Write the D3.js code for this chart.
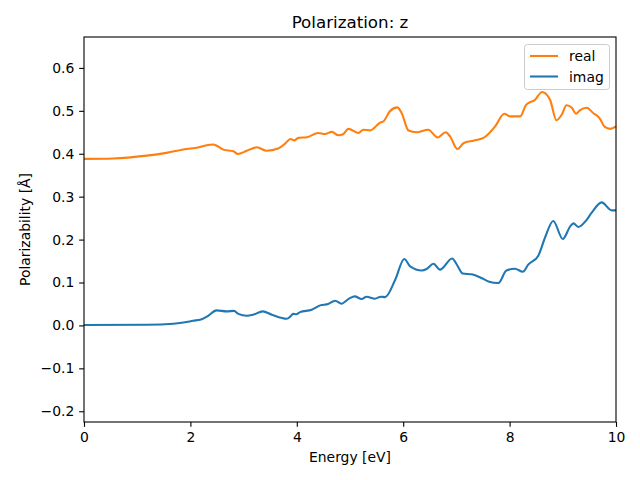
<!DOCTYPE html>
<html><head><meta charset="utf-8">
<script src="https://cdn.jsdelivr.net/npm/d3@7"></script>
<style>body{margin:0;background:#fff}svg{display:block}text{font-family:"DejaVu Sans",sans-serif}</style>
</head><body>
<svg id="c" width="640" height="480"></svg>
<script>
const realE = [0,0.55,1.18,1.55,1.93,2.09,2.37,2.43,2.62,2.81,2.89,3.06,3.25,3.43,3.65,3.78,3.88,3.95,4.03,4.19,4.40,4.53,4.66,4.78,4.87,4.97,5.16,5.25,5.38,5.56,5.63,5.75,5.89,5.97,6.10,6.25,6.47,6.65,6.80,6.88,7.02,7.14,7.32,7.51,7.73,7.90,8.01,8.20,8.31,8.48,8.61,8.76,8.88,8.98,9.07,9.17,9.25,9.32,9.45,9.57,9.69,9.79,9.89,10];
const realV = [0.388,0.389,0.3956,0.402,0.411,0.4135,0.421,0.4215,0.4096,0.4056,0.3995,0.407,0.415,0.407,0.412,0.4235,0.4345,0.431,0.437,0.4385,0.4485,0.446,0.451,0.443,0.4455,0.458,0.4485,0.456,0.4545,0.472,0.4756,0.499,0.508,0.495,0.454,0.45,0.456,0.438,0.45,0.4406,0.411,0.425,0.4305,0.437,0.464,0.493,0.487,0.487,0.514,0.526,0.544,0.526,0.478,0.491,0.513,0.507,0.493,0.501,0.507,0.495,0.483,0.4625,0.458,0.464];
const imagE = [0,1.18,1.68,1.93,2.05,2.18,2.34,2.49,2.68,2.82,2.90,3.06,3.18,3.36,3.53,3.81,3.88,3.93,3.99,4.06,4.28,4.44,4.59,4.72,4.84,4.99,5.09,5.22,5.31,5.47,5.58,5.66,5.85,6.02,6.13,6.35,6.44,6.57,6.69,6.92,7.02,7.12,7.29,7.47,7.60,7.79,7.94,8.10,8.25,8.35,8.54,8.67,8.82,9.00,9.14,9.20,9.29,9.44,9.54,9.73,9.92,10];
const imagV = [0.001,0.0016,0.004,0.008,0.011,0.013,0.023,0.035,0.0327,0.034,0.027,0.0226,0.025,0.0327,0.025,0.0156,0.021,0.027,0.026,0.031,0.0366,0.0467,0.050,0.0576,0.0506,0.063,0.0676,0.0615,0.0669,0.0622,0.067,0.066,0.1065,0.1548,0.1375,0.128,0.1315,0.1438,0.130,0.156,0.139,0.121,0.119,0.1105,0.1026,0.0988,0.128,0.132,0.125,0.1415,0.1625,0.206,0.2433,0.2014,0.2308,0.2378,0.2294,0.2448,0.262,0.2867,0.268,0.268];
const xTicks = [0,2,4,6,8,10];
const yTicks = [-0.2,-0.1,0.0,0.1,0.2,0.3,0.4,0.5,0.6];
const seriesNames = ["real","imag"];
const colors = ["#ff7f0e","#1f77b4"];

const L=84,R=616,T=37,B=422;
const svg=d3.select("#c");
const x=d3.scaleLinear().domain([0,10]).range([L,R]);
const y=d3.scaleLinear().domain([-0.225,0.672]).range([B,T]);

const line=d3.line().x(d=>x(d[0])).y(d=>y(d[1])).curve(d3.curveMonotoneX);
const realData=realE.map((e,i)=>[e,realV[i]]);
const imagData=imagE.map((e,i)=>[e,imagV[i]]);
const g=svg.append("g");
g.append("path").datum(realData).attr("d",line).attr("fill","none").attr("stroke",colors[0]).attr("stroke-width",2.08);
g.append("path").datum(imagData).attr("d",line).attr("fill","none").attr("stroke",colors[1]).attr("stroke-width",2.08);

const xa=svg.append("g").attr("transform",`translate(0,${B})`).call(d3.axisBottom(x).tickValues(xTicks).tickSize(4.86).tickPadding(4.9).tickFormat(d3.format("d")));
const ya=svg.append("g").attr("transform",`translate(${L},0)`).call(d3.axisLeft(y).tickValues(yTicks).tickSize(4.86).tickPadding(4.9).tickFormat(d=>d3.format(".1f")(d).replace("-","\u2212")));
[xa,ya].forEach(a=>{a.selectAll("text").attr("font-size","13.9px").attr("font-family","DejaVu Sans").attr("fill","#000");a.selectAll("line").attr("stroke","#000").attr("stroke-width",1.1);a.select(".domain").remove();});

svg.append("rect").attr("x",L).attr("y",T).attr("width",R-L).attr("height",B-T).attr("fill","none").attr("stroke","#000").attr("stroke-width",1.1);

svg.append("text").attr("x",(L+R)/2).attr("y",28).attr("text-anchor","middle").attr("font-size","16.7px").text("Polarization: z");
svg.append("text").attr("x",(L+R)/2).attr("y",462).attr("text-anchor","middle").attr("font-size","13.9px").text("Energy [eV]");
svg.append("text").attr("transform",`translate(30,${(T+B)/2}) rotate(-90)`).attr("text-anchor","middle").attr("font-size","13.9px").text("Polarizability [Å]");

const lg=svg.append("g");
lg.append("rect").attr("x",524.5).attr("y",44.5).attr("width",85).attr("height",45).attr("rx",3).attr("fill","#fff").attr("fill-opacity",0.8).attr("stroke","#ccc").attr("stroke-width",1);
seriesNames.forEach((n,i)=>{
  const yy=56+i*20.5;
  lg.append("line").attr("x1",530).attr("x2",558).attr("y1",yy).attr("y2",yy).attr("stroke",colors[i]).attr("stroke-width",2.08);
  lg.append("text").attr("x",569).attr("y",yy+5).attr("font-size","13.9px").text(n);
});
</script>
</body></html>
